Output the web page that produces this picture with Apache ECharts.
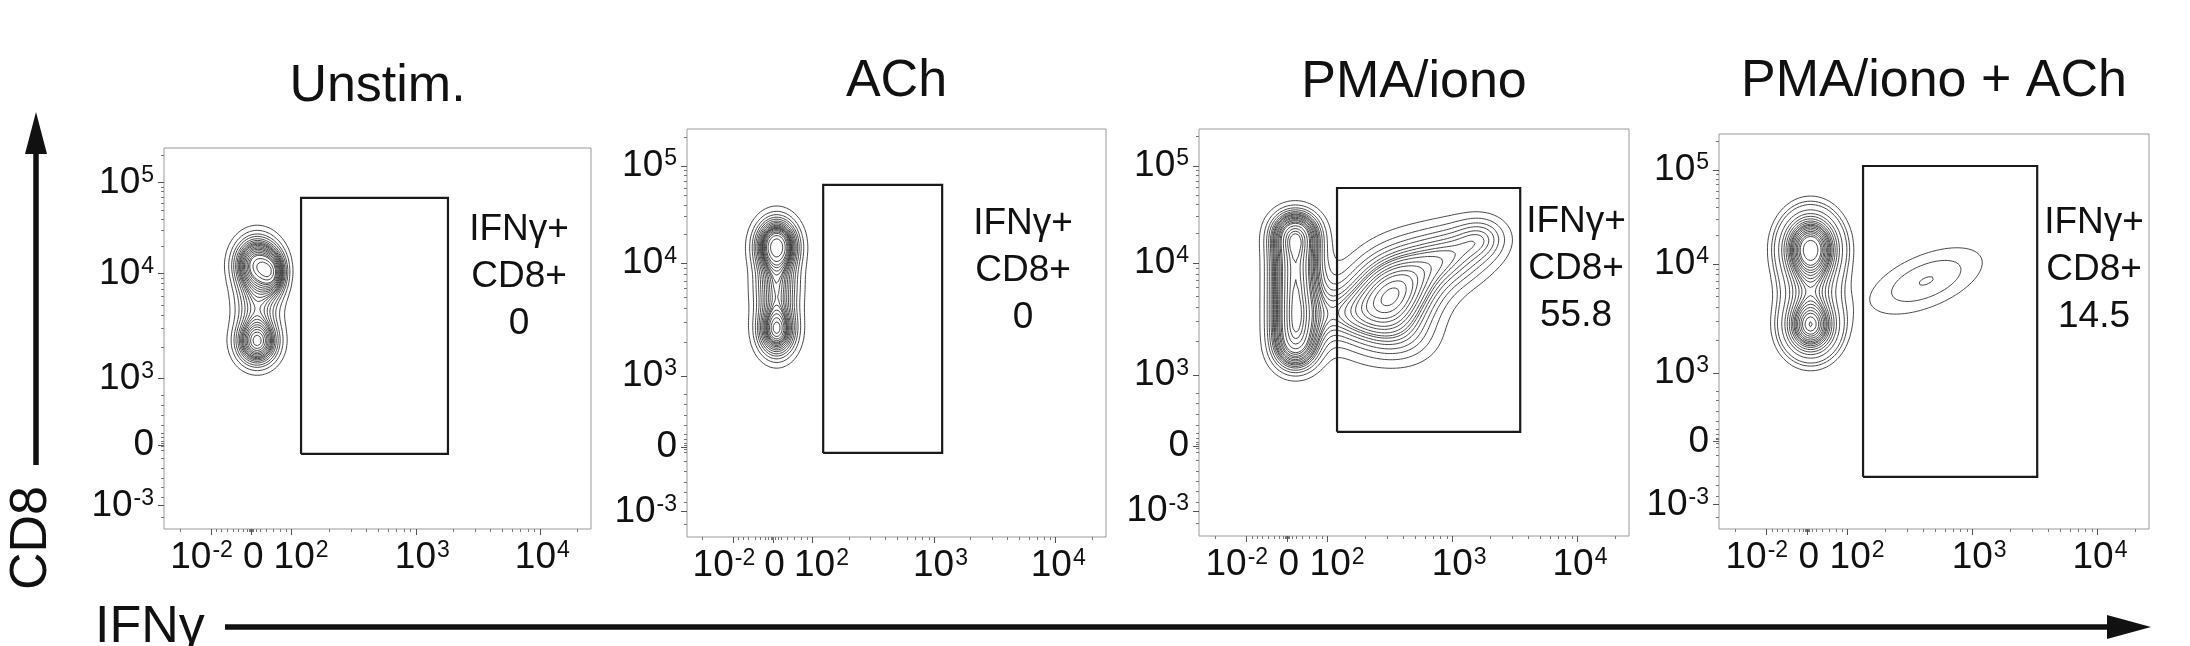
<!DOCTYPE html>
<html><head><meta charset="utf-8">
<script src="https://cdn.jsdelivr.net/npm/echarts@6/dist/echarts.min.js"></script>
<style>html,body{margin:0;padding:0;background:#fff}#chart{width:2190px;height:646px}</style>
</head><body><div id="chart"></div>
<script>
// ---------------- data ----------------
const panelTitles = ['Unstim.', 'ACh', 'PMA/iono', 'PMA/iono + ACh'];
const gateLabelLines = ['IFNγ+', 'CD8+'];
const gatePercents = ['0', '0', '55.8', '14.5'];
const xAxisName = 'IFNγ';
const yAxisName = 'CD8';

// display-scale units (0..1000) of the transformed axes
const xTickValues = [110, 205, 299, 590, 880];
const xLabelValues = [88, 209, 321, 605, 886];
const xTickLabels = ['10^-2', '0', '10^2', '10^3', '10^4'];
const yTickValues = [909, 671, 395, 221, 62];
const yTickLabels = ['10^5', '10^4', '10^3', '0', '10^-3'];
const xMinorTicks = [37, 123, 135, 147, 162, 174, 186, 195, 200, 203, 207, 210, 217, 225, 240, 256, 272, 287,
  387, 438, 474, 502, 525, 545, 562, 577, 677, 728, 765, 793, 816, 835, 852, 867, 967];
const yMinorTicks = [981, 898, 886, 872, 856, 837, 814, 785, 743, 658, 644, 628, 610, 588, 561, 527, 478,
  350, 325, 299, 273, 252, 240, 230, 226, 216, 207, 186, 160, 134, 110, 84, 31];

// gates: [xLow, xHigh, yLow, yHigh]
const gateUnstim = [321, 665, 197, 869];
const gateACh = [325, 609, 206, 863];
const gatePMA = [321, 747, 256, 855];
const gatePMAACh = [335, 740, 132, 919];

// cell populations: [cx, cy, sx, sy, rho, weight]
const popsUnstim = [
  [218, 695, 34, 46, 0, 0.42],
  [218, 490, 32, 40, 0, 0.30],
  [218, 590, 34, 50, 0, 0.18],
  [256, 668, 20, 36, 0, 0.10]
];
const popsACh = [
  [214, 715, 32, 42, 0, 0.42],
  [214, 505, 30, 42, 0, 0.30],
  [214, 610, 33, 50, 0, 0.28]
];
const popsPMA = [
  [224, 460, 37, 40, 0, 0.07],
  [224, 520, 37, 40, 0, 0.07],
  [224, 580, 37, 40, 0, 0.07],
  [224, 640, 37, 40, 0, 0.07],
  [224, 700, 37, 40, 0, 0.07],
  [224, 750, 37, 36, 0, 0.07],
  [445, 590, 75, 78, 0.25, 0.32],
  [590, 690, 70, 55, 0.2, 0.10],
  [660, 735, 40, 35, 0, 0.02],
  [320, 545, 55, 45, 0, 0.04],
  [480, 480, 60, 48, 0, 0.03]
];
const popsPMAACh = [
  [213, 712, 38, 50, 0, 0.42],
  [213, 512, 36, 44, 0, 0.28],
  [213, 610, 38, 55, 0, 0.155],
  [482, 628, 90, 58, 0.55, 0.09]
];
const contourProbs = [0.05, 0.10, 0.15, 0.20, 0.25, 0.30, 0.35, 0.40, 0.45, 0.50,
  0.55, 0.60, 0.65, 0.70, 0.75, 0.80, 0.85, 0.90, 0.95];

// ---------------- layout ----------------
const FONT = "'Liberation Sans', Arial, Helvetica, sans-serif";
const panels = [
  { box: [164, 148, 427, 381], pops: popsUnstim, gate: gateUnstim, titleY: 87, annX: 519, annY: 230 },
  { box: [687, 129, 419, 408], pops: popsACh, gate: gateACh, titleY: 82, annX: 1023, annY: 224 },
  { box: [1199, 129, 430, 407], pops: popsPMA, gate: gatePMA, titleY: 83, annX: 1576, annY: 222 },
  { box: [1719, 134, 430, 395], pops: popsPMAACh, gate: gatePMAACh, titleY: 82, annX: 2094, annY: 223 }
];

// ---------------- contour computation ----------------
function contourPaths(pops, N, probs) {
  const M = N + 1, step = 1000 / N;
  const v = new Float64Array(M * M);
  for (let j = 0; j < M; j++) for (let i = 0; i < M; i++) {
    const x = i * step, y = j * step; let s = 0;
    for (const [cx, cy, sx, sy, r, w] of pops) {
      const dx = (x - cx) / sx, dy = (y - cy) / sy, k = 1 - r * r;
      s += w / (sx * sy * Math.sqrt(k)) * Math.exp(-(dx * dx - 2 * r * dx * dy + dy * dy) / (2 * k));
    }
    v[j * M + i] = s;
  }
  const sorted = Array.from(v).sort((a, b) => b - a);
  const total = sorted.reduce((a, b) => a + b, 0);
  const levels = []; let cum = 0, pi = 0;
  for (let k = 0; k < sorted.length && pi < probs.length; k++) {
    cum += sorted[k];
    while (pi < probs.length && cum >= probs[pi] * total) { levels.push(sorted[k]); pi++; }
  }
  const paths = [];
  const VOFF = M * N;
  for (const L of levels) {
    const pts = new Map(); const segs = [];
    const edgePt = (id, i0, j0, i1, j1) => {
      if (!pts.has(id)) {
        const a = v[j0 * M + i0], b = v[j1 * M + i1]; const t = (L - a) / (b - a);
        pts.set(id, [(i0 + t * (i1 - i0)) * step, (j0 + t * (j1 - j0)) * step]);
      }
      return id;
    };
    for (let j = 0; j < N; j++) for (let i = 0; i < N; i++) {
      const va = v[j * M + i], vb = v[j * M + i + 1], vc = v[(j + 1) * M + i + 1], vd = v[(j + 1) * M + i];
      const a = va >= L, b = vb >= L, c = vc >= L, d = vd >= L;
      const cross = [a !== b, b !== c, d !== c, a !== d];
      let n = 0; for (const q of cross) if (q) n++;
      if (n === 0) continue;
      const ids = [
        () => edgePt(j * N + i, i, j, i + 1, j),
        () => edgePt(VOFF + j * M + i + 1, i + 1, j, i + 1, j + 1),
        () => edgePt((j + 1) * N + i, i, j + 1, i + 1, j + 1),
        () => edgePt(VOFF + j * M + i, i, j, i, j + 1)
      ];
      if (n === 2) {
        const k = []; for (let q = 0; q < 4; q++) if (cross[q]) k.push(ids[q]());
        segs.push(k);
      } else {
        const center = (va + vb + vc + vd) / 4 >= L;
        if (a !== center) { segs.push([ids[3](), ids[0]()]); segs.push([ids[1](), ids[2]()]); }
        else { segs.push([ids[0](), ids[1]()]); segs.push([ids[2](), ids[3]()]); }
      }
    }
    const map = new Map();
    segs.forEach((s, k) => { for (const e of s) { if (!map.has(e)) map.set(e, []); map.get(e).push(k); } });
    const used = new Uint8Array(segs.length);
    const walk = (start, out) => {
      let cur = start;
      while (true) {
        let nxt = -1;
        for (const m of map.get(cur)) if (!used[m]) { nxt = m; break; }
        if (nxt < 0) break;
        used[nxt] = 1;
        const s = segs[nxt]; const other = s[0] === cur ? s[1] : s[0];
        out.push(other); cur = other;
      }
    };
    for (let k = 0; k < segs.length; k++) {
      if (used[k]) continue;
      used[k] = 1;
      const fwd = [segs[k][1]]; walk(segs[k][1], fwd);
      const back = []; walk(segs[k][0], back);
      const chain = back.reverse().concat([segs[k][0]], fwd);
      paths.push(chain.map(id => pts.get(id)));
    }
  }
  return paths;
}

// ---------------- option ----------------
function fmtLabel(s) {
  const p = s.split('^');
  return p.length > 1 ? '{b|' + p[0] + '}{s|' + p[1] + '}' : '{b|' + p[0] + '}';
}
const rich = {
  b: { fontSize: 37, fontFamily: FONT, color: '#111' },
  s: { fontSize: 23, fontFamily: FONT, color: '#111', verticalAlign: 'top', padding: [0, 0, 0, 1] }
};

const grid = [], xAxis = [], yAxis = [], series = [], graphic = [];
panels.forEach((p, k) => {
  const [l, t, w, h] = p.box;
  grid.push({ left: l, top: t, width: w, height: h, show: true, borderColor: '#9a9a9a', borderWidth: 1, backgroundColor: '#fff' });
  const xl = {};
  xLabelValues.forEach((v, i) => { xl[v] = xTickLabels[i]; });
  const yl = {};
  yTickValues.forEach((v, i) => { yl[v] = yTickLabels[i]; });
  xAxis.push({
    type: 'value', gridIndex: k, min: 0, max: 1000, position: 'bottom',
    axisLine: { show: false }, splitLine: { show: false },
    axisTick: { show: true, length: 6, lineStyle: { color: '#555', width: 1 }, customValues: xTickValues },
    axisLabel: { show: true, margin: 10, customValues: xLabelValues, formatter: v => fmtLabel(xl[v]), rich: rich }
  });
  xAxis.push({
    type: 'value', gridIndex: k, min: 0, max: 1000, position: 'bottom',
    axisLine: { show: false }, splitLine: { show: false },
    axisTick: { show: true, length: 3, lineStyle: { color: '#777', width: 1 }, customValues: xMinorTicks },
    axisLabel: { show: false }
  });
  yAxis.push({
    type: 'value', gridIndex: k, min: 0, max: 1000, position: 'left',
    axisLine: { show: false }, splitLine: { show: false },
    axisTick: { show: true, length: 6, lineStyle: { color: '#555', width: 1 }, customValues: yTickValues },
    axisLabel: { show: true, margin: 10, customValues: yTickValues, formatter: v => fmtLabel(yl[v]), rich: rich }
  });
  yAxis.push({
    type: 'value', gridIndex: k, min: 0, max: 1000, position: 'left',
    axisLine: { show: false }, splitLine: { show: false },
    axisTick: { show: true, length: 3, lineStyle: { color: '#777', width: 1 }, customValues: yMinorTicks },
    axisLabel: { show: false }
  });
  const paths = contourPaths(p.pops, 160, contourProbs);
  series.push({
    type: 'lines', coordinateSystem: 'cartesian2d', xAxisIndex: 2 * k, yAxisIndex: 2 * k,
    polyline: true, silent: true, animation: false,
    lineStyle: { color: '#333', width: 0.9, opacity: 1 },
    data: paths.map(c => ({ coords: c }))
  });
  const [x0, x1, y0, y1] = p.gate;
  series.push({
    type: 'lines', coordinateSystem: 'cartesian2d', xAxisIndex: 2 * k, yAxisIndex: 2 * k,
    polyline: true, silent: true, animation: false,
    lineStyle: { color: '#1a1a1a', width: 2.2, opacity: 1 },
    data: [{ coords: [[x0, y0], [x1, y0], [x1, y1], [x0, y1], [x0, y0]] }]
  });
  graphic.push({
    type: 'text', x: l + w / 2, y: p.titleY, silent: true,
    style: { text: panelTitles[k], fontSize: 52, fontFamily: FONT, fill: '#111', align: 'center', verticalAlign: 'middle', textAlign: 'center', textVerticalAlign: 'middle' }
  });
  const lines = gateLabelLines.concat([gatePercents[k]]);
  lines.forEach((s, i) => {
    graphic.push({
      type: 'text', x: p.annX, y: p.annY + i * 47, silent: true,
      style: { text: s, fontSize: 37, fontFamily: FONT, fill: '#111', align: 'center', verticalAlign: 'middle', textAlign: 'center', textVerticalAlign: 'middle' }
    });
  });
});

// axis arrows and names
graphic.push(
  { type: 'line', silent: true, shape: { x1: 36, y1: 465, x2: 36, y2: 148 }, style: { stroke: '#111', lineWidth: 5.5 } },
  { type: 'polygon', silent: true, shape: { points: [[36, 112], [25, 154], [47, 154]] }, style: { fill: '#111' } },
  { type: 'line', silent: true, shape: { x1: 225, y1: 627, x2: 2112, y2: 627 }, style: { stroke: '#111', lineWidth: 5.5 } },
  { type: 'polygon', silent: true, shape: { points: [[2151, 627], [2107, 615], [2107, 639]] }, style: { fill: '#111' } },
  { type: 'text', silent: true, x: 32, y: 538, rotation: Math.PI / 2,
    style: { text: yAxisName, fontSize: 52, fontFamily: FONT, fill: '#111', align: 'center', verticalAlign: 'middle', textAlign: 'center', textVerticalAlign: 'middle' } },
  { type: 'text', silent: true, x: 95, y: 628,
    style: { text: xAxisName, fontSize: 52, fontFamily: FONT, fill: '#111', align: 'left', verticalAlign: 'middle', textAlign: 'left', textVerticalAlign: 'middle' } }
);

const chart = echarts.init(document.getElementById('chart'), null, { renderer: 'canvas' });
chart.setOption({ animation: false, backgroundColor: '#fff', grid, xAxis, yAxis, series, graphic });
</script>
</body></html>
